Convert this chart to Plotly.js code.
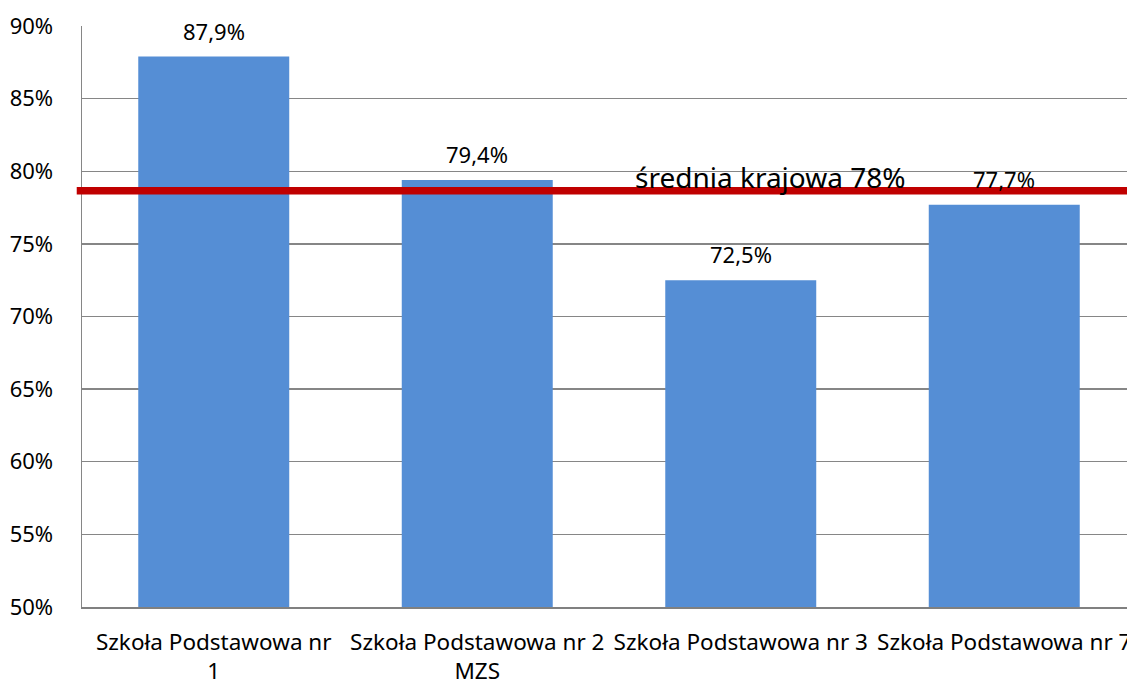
<!DOCTYPE html>
<html>
<head>
<meta charset="utf-8">
<script src="https://cdn.plot.ly/plotly-3.0.1.min.js"></script>
<style>
html,body{margin:0;padding:0;overflow:hidden;background:#fff;}
#chart{width:1140px;height:684px;}
</style>
</head>
<body>
<div id="chart"></div>
<script>
const categories = ["Szkoła Podstawowa nr<br>1", "Szkoła Podstawowa nr 2<br>MZS", "Szkoła Podstawowa nr 3", "Szkoła Podstawowa nr 7"];
const values = [87.9, 79.4, 72.5, 77.7];
const valueLabels = ["87,9%", "79,4%", "72,5%", "77,7%"];
const averageValue = [78.65];
const averageLabel = ["średnia krajowa 78%"];
const yTicks = [50, 55, 60, 65, 70, 75, 80, 85, 90];
const yTickLabels = ["50%", "55%", "60%", "65%", "70%", "75%", "80%", "85%", "90%"];

const FONT = "Noto Sans, Open Sans, sans-serif";

const trace = {
  type: "bar",
  x: categories,
  y: values,
  marker: {color: "#558ED5"},
  hoverinfo: "none"
};

const annotations = categories.map((c, i) => ({
  x: c, y: values[i], xref: "x", yref: "y",
  text: valueLabels[i], showarrow: false,
  yanchor: "middle", yshift: 26,
  font: {family: FONT, size: 22, color: "#000"}
}));
annotations.push({
  x: 0.653, xref: "paper", y: averageValue[0], yref: "y",
  text: averageLabel[0], showarrow: false,
  yanchor: "bottom", yshift: -7,
  font: {family: FONT, size: 28, color: "#000"}
});

const layout = {
  width: 1140, height: 684,
  margin: {l: 82, r: 4, t: 26, b: 77},
  paper_bgcolor: "#fff", plot_bgcolor: "#fff",
  showlegend: false,
  bargap: 0.427,
  font: {family: FONT, size: 22, color: "#000"},
  xaxis: {
    type: "category",
    range: [-0.5, 3.5],
    showgrid: false,
    showline: true, linecolor: "#808080", linewidth: 2,
    ticks: "outside", ticklen: 14, tickcolor: "rgba(0,0,0,0)",
    tickfont: {family: FONT, size: 22.5, color: "#000"},
    tickangle: 0,
    fixedrange: true
  },
  yaxis: {
    range: [50, 90],
    tickvals: yTicks, ticktext: yTickLabels,
    showgrid: true, gridcolor: "#868686", gridwidth: 1.3,
    showline: true, linecolor: "#868686", linewidth: 1.5,
    zeroline: false,
    ticks: "outside", ticklen: 23, tickcolor: "rgba(0,0,0,0)",
    tickfont: {family: FONT, size: 22, color: "#000"},
    fixedrange: true
  },
  shapes: [{
    type: "line", xref: "paper", x0: -0.005, x1: 1.01,
    yref: "y", y0: averageValue[0], y1: averageValue[0],
    line: {color: "#C00000", width: 7.5},
    layer: "above"
  }],
  annotations: annotations
};

Plotly.newPlot("chart", [trace], layout, {displayModeBar: false, staticPlot: true});
</script>
</body>
</html>
